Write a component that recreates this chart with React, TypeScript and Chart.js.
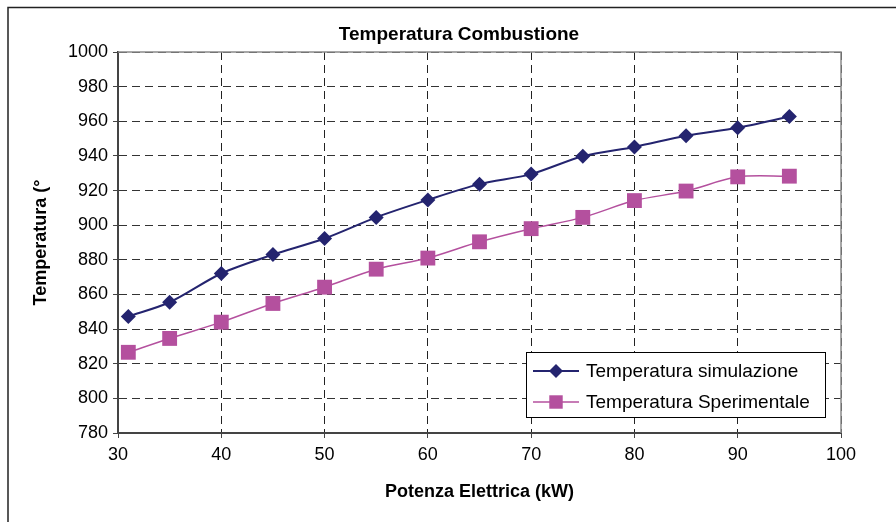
import React, { useEffect, useRef } from 'react';
import { Chart, registerables } from 'chart.js';

Chart.register(...registerables);

// ---- Data ----
const potenza = [31, 35, 40, 45, 50, 55, 60, 65, 70, 75, 80, 85, 90, 95];
const tempSimulazione = [847.3, 855.5, 872.1, 883.0, 892.3, 904.5, 914.6, 923.7, 929.5, 939.8, 945.2, 951.6, 956.3, 962.7];
const tempSperimentale = [826.6, 834.6, 844.0, 854.8, 864.2, 874.6, 881.0, 890.4, 898.0, 904.5, 914.2, 919.7, 927.9, 928.3];
const seriesNames = ['Temperatura simulazione', 'Temperatura Sperimentale'];
const yRange = [780, 1000];
const yStep = 20;
const xRange = [30, 100];
const xStep = 10;
const chartTitle = 'Temperatura Combustione';
const xTitle = 'Potenza Elettrica (kW)';
const yTitle = 'Temperatura (°';

const FONT = "'Liberation Sans', Arial, Helvetica, sans-serif";
const NAVY = '#24246f';
const MAGENTA = '#b4509e';

const framePlugin = {
  id: 'frame',
  beforeDraw(chart: any) {
    const { ctx, width, height } = chart;
    ctx.save();
    ctx.fillStyle = '#ffffff';
    ctx.fillRect(0, 0, width, height);
    ctx.strokeStyle = '#222222';
    ctx.lineWidth = 1.5;
    ctx.beginPath();
    ctx.moveTo(width, 7.5);
    ctx.lineTo(8, 7.5);
    ctx.lineTo(8, height);
    ctx.stroke();
    ctx.restore();
  },
  beforeDatasetsDraw(chart: any) {
    const { ctx, chartArea } = chart;
    ctx.save();
    ctx.strokeStyle = '#8a8a8a';
    ctx.lineWidth = 1.5;
    ctx.beginPath();
    ctx.moveTo(chartArea.left, chartArea.top);
    ctx.lineTo(chartArea.right, chartArea.top);
    ctx.lineTo(chartArea.right, chartArea.bottom);
    ctx.stroke();
    ctx.restore();
  },
};

function drawMarker(ctx: CanvasRenderingContext2D, style: string, x: number, y: number, r: number, color: string) {
  ctx.fillStyle = color;
  ctx.beginPath();
  if (style === 'rectRot') {
    ctx.moveTo(x, y - r);
    ctx.lineTo(x + r, y);
    ctx.lineTo(x, y + r);
    ctx.lineTo(x - r, y);
    ctx.closePath();
  } else {
    const s = r * Math.SQRT1_2;
    ctx.rect(x - s, y - s, 2 * s, 2 * s);
  }
  ctx.fill();
}

const legendPlugin = {
  id: 'boxLegend',
  afterDraw(chart: any) {
    const { ctx, chartArea } = chart;
    const w = 299;
    const h = 65;
    const right = chartArea.right - 16;
    const bottom = chartArea.bottom - 16;
    const left = Math.round(right - w);
    const top = Math.round(bottom - h);
    ctx.save();
    ctx.fillStyle = '#ffffff';
    ctx.fillRect(left, top, w, h);
    ctx.strokeStyle = '#000000';
    ctx.lineWidth = 1;
    ctx.strokeRect(left + 0.5, top + 0.5, w, h);
    chart.data.datasets.forEach((ds: any, i: number) => {
      const y = top + 19 + i * 31;
      ctx.strokeStyle = ds.borderColor;
      ctx.lineWidth = ds.borderWidth;
      ctx.beginPath();
      ctx.moveTo(left + 7, y);
      ctx.lineTo(left + 53, y);
      ctx.stroke();
      drawMarker(ctx, ds.pointStyle, left + 30, y, i === 0 ? 7 : 9.5, ds.backgroundColor);
      ctx.fillStyle = '#000000';
      ctx.font = `19px ${FONT}`;
      ctx.textBaseline = 'middle';
      ctx.textAlign = 'left';
      ctx.fillText(ds.label, left + 60, y + 1);
    });
    ctx.restore();
  },
};

export default function App() {
  const canvasRef = useRef<HTMLCanvasElement | null>(null);

  useEffect(() => {
    if (!canvasRef.current) return;
    const toPts = (ys: number[]) => ys.map((y, i) => ({ x: potenza[i], y }));
    const chart = new Chart(canvasRef.current, {
      type: 'line',
      data: {
        datasets: [
          {
            label: seriesNames[0],
            data: toPts(tempSimulazione),
            borderColor: NAVY,
            backgroundColor: NAVY,
            borderWidth: 2,
            pointStyle: 'rectRot',
            pointRadius: 7.5,
            pointBorderWidth: 0,
            tension: 0.3,
            yAxisID: 'y',
          },
          {
            label: seriesNames[1],
            data: toPts(tempSperimentale),
            borderColor: MAGENTA,
            backgroundColor: MAGENTA,
            borderWidth: 1.5,
            pointStyle: 'rect',
            pointRadius: 10.5,
            pointBorderWidth: 0,
            tension: 0.3,
            yAxisID: 'y',
          },
        ],
      },
      options: {
        responsive: false,
        animation: false,
        devicePixelRatio: 1,
        layout: { padding: { left: 22, right: 0, top: 0, bottom: 0 } },
        plugins: {
          legend: { display: false },
          tooltip: { enabled: false },
          title: {
            display: true,
            text: chartTitle,
            color: '#000000',
            font: { family: FONT, size: 19, weight: 'bold' },
            padding: { top: 23.6, bottom: 5.6 },
          },
        },
        scales: {
          x: {
            type: 'linear',
            min: xRange[0],
            max: xRange[1],
            ticks: {
              stepSize: xStep,
              color: '#000000',
              font: { family: FONT, size: 18 },
              padding: 6,
              callback: (v: any) => String(v),
            },
            grid: {
              color: '#222222',
              lineWidth: 1,
              tickColor: '#444444',
              tickLength: 5,
              tickBorderDash: [],
            },
            border: { display: true, color: '#444444', width: 2, dash: [8, 5] },
            title: {
              display: true,
              text: xTitle,
              color: '#000000',
              font: { family: FONT, size: 18, weight: 'bold' },
              padding: { top: 0, bottom: 19 },
            },
            afterFit: (s: any) => {
              s.height = 89;
            },
          },
          y: {
            type: 'linear',
            position: 'left',
            min: yRange[0],
            max: yRange[1],
            ticks: {
              stepSize: yStep,
              color: '#000000',
              font: { family: FONT, size: 18 },
              padding: 5,
              callback: (v: any) => String(v),
            },
            grid: {
              color: '#333333',
              lineWidth: 1,
              tickColor: '#444444',
              tickLength: 5,
              tickBorderDash: [],
            },
            border: { display: true, color: '#444444', width: 2, dash: [8, 5] },
            title: {
              display: true,
              text: yTitle,
              color: '#000000',
              font: { family: FONT, size: 18, weight: 'bold' },
              padding: { top: 8, bottom: 0 },
            },
            afterFit: (s: any) => {
              s.width = 96;
            },
          },
          yR: {
            type: 'linear',
            axis: 'y',
            position: 'right',
            display: true,
            ticks: { display: false },
            grid: { display: false, drawTicks: false },
            border: { display: false },
            afterFit: (s: any) => {
              s.width = 55;
            },
          },
        },
      },
      plugins: [framePlugin, legendPlugin],
    } as any);
    return () => chart.destroy();
  }, []);

  return (
    <div style={{ position: 'fixed', left: 0, top: 0, width: 896, height: 522, background: '#fff' }}>
      <canvas ref={canvasRef} width={896} height={522} style={{ display: 'block' }} />
    </div>
  );
}
